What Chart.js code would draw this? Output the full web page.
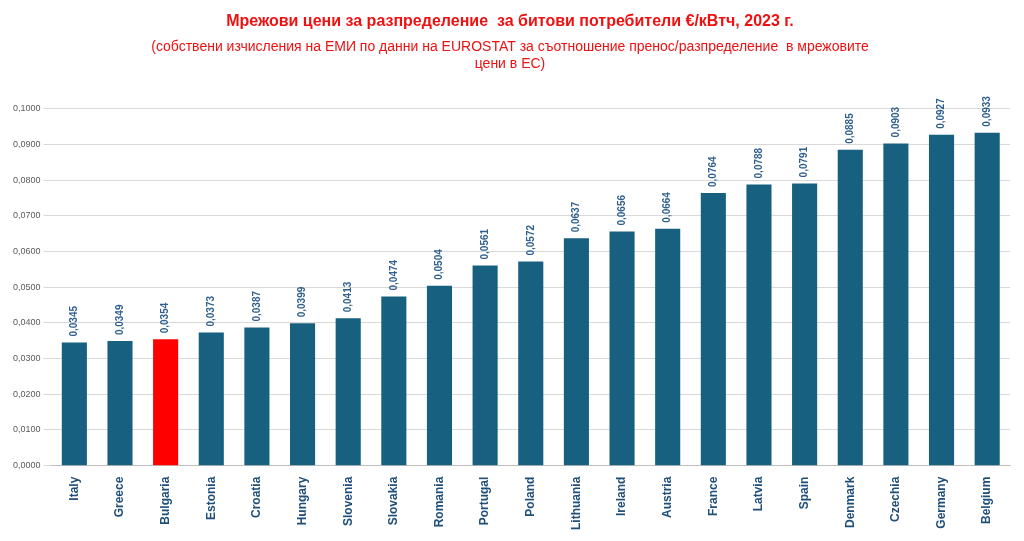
<!DOCTYPE html>
<html><head><meta charset="utf-8">
<script src="https://cdn.jsdelivr.net/npm/chart.js@4"></script>
<style>html,body{margin:0;padding:0;background:#fff}#w{width:1024px;height:541px}</style>
</head><body><div id="w"><canvas id="c"></canvas></div>
<script>
const categories=["Italy","Greece","Bulgaria","Estonia","Croatia","Hungary","Slovenia","Slovakia","Romania","Portugal","Poland","Lithuania","Ireland","Austria","France","Latvia","Spain","Denmark","Czechia","Germany","Belgium"];
const values=[0.0345,0.0349,0.0354,0.0373,0.0387,0.0399,0.0413,0.0474,0.0504,0.0561,0.0572,0.0637,0.0656,0.0664,0.0764,0.0788,0.0791,0.0885,0.0903,0.0927,0.0933];
const highlight="Bulgaria";
const fmt=v=>v.toFixed(4).replace('.',',');
const labelPlugin={id:'lbl',afterDatasetsDraw(ch){const ctx=ch.ctx;const meta=ch.getDatasetMeta(0);ctx.save();ctx.font='bold 10px "Liberation Sans", Arial';ctx.fillStyle='#2e5f8f';ctx.textAlign='left';ctx.textBaseline='middle';
meta.data.forEach((b,i)=>{ctx.save();ctx.translate(b.x,b.y-6);ctx.rotate(-Math.PI/2);ctx.fillText(fmt(values[i]),0,0);ctx.restore();});ctx.restore();}};
new Chart(document.getElementById('c'),{type:'bar',
data:{labels:categories,datasets:[{data:values,backgroundColor:categories.map(c=>c===highlight?'#ff0000':'#17607f'),categoryPercentage:1,barPercentage:0.55}]},
options:{responsive:true,maintainAspectRatio:false,animation:false,
layout:{padding:{left:10,right:14,top:4,bottom:8}},
plugins:{legend:{display:false},tooltip:{enabled:false},
title:{display:true,text:'Мрежови цени за разпределение  за битови потребители €/кВтч, 2023 г.',color:'#ee1111',font:{family:'"Liberation Sans", Arial',size:16,weight:'bold'},padding:{top:8,bottom:8}},
subtitle:{display:true,text:['(собствени изчисления на ЕМИ по данни на EUROSTAT за съотношение пренос/разпределение  в мрежовите','цени в ЕС)'],color:'#ee1111',font:{family:'"Liberation Sans", Arial',size:14},padding:{bottom:36}}},
scales:{x:{grid:{display:false},border:{color:'#bfbfbf'},ticks:{maxRotation:90,minRotation:90,color:'#1f4e79',font:{family:'"Liberation Sans", Arial',size:12,weight:'bold'}}},
y:{min:0,max:0.1,border:{display:false},grid:{color:'#d9d9d9'},ticks:{stepSize:0.01,color:'#595959',font:{family:'"Liberation Sans", Arial',size:9},callback:v=>fmt(v)}}}},
plugins:[labelPlugin]});
</script></body></html>
